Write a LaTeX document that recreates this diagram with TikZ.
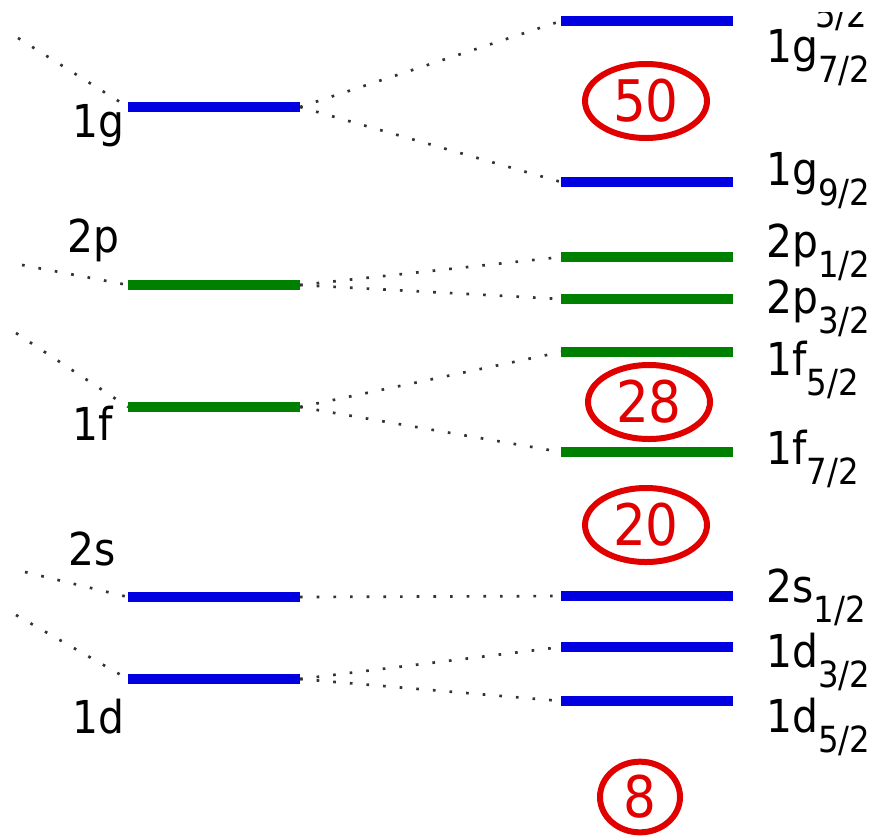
\documentclass[tikz,border=0pt]{standalone}
\usepackage{fontspec}
\setmainfont{DejaVu Sans}[FakeStretch=0.9]
\usetikzlibrary{shapes.geometric}
\definecolor{lvlblue}{RGB}{0,0,225}
\definecolor{lvlgreen}{RGB}{0,128,0}
\definecolor{magicred}{RGB}{225,0,0}
\newcommand{\lvl}[2]{\fontsize{34pt}{34pt}\selectfont #1\raisebox{-15pt}{\fontsize{27pt}{27pt}\selectfont #2}}
\newcommand{\sublbl}[1]{\fontsize{27pt}{27pt}\selectfont #1}
\tikzset{
  bluebar/.style={draw=lvlblue, line width=7.5pt},
  greenbar/.style={draw=lvlgreen, line width=7.5pt},
  dotline/.style={draw=black!80, line width=2pt, dash pattern=on 2pt off 10.5pt},
  lab/.style={anchor=base west, inner sep=0pt, text=black},
  magic/.style={ellipse, draw=magicred, line width=4.5pt, text=magicred, inner sep=0pt,
    font=\fontsize{43pt}{43pt}\selectfont}
}
\begin{document}
\begin{tikzpicture}[x=0.75pt,y=-0.75pt]
\useasboundingbox (0,0) rectangle (884,836);
% left bars
\coordinate (gL) at (128,107);  \coordinate (gR) at (300,107);
\coordinate (pL) at (128,285);  \coordinate (pR) at (300,285);
\coordinate (fL) at (128,407);  \coordinate (fR) at (300,407);
\coordinate (sL) at (128,597);  \coordinate (sR) at (300,597);
\coordinate (dL) at (128,679);  \coordinate (dR) at (300,679);
% left free ends
\coordinate (g0) at (18,38);
\coordinate (p0) at (22,265);
\coordinate (f0) at (16,333);
\coordinate (s0) at (25,572);
\coordinate (d0) at (16,615);
% right bars
\coordinate (g72L) at (561,21);  \coordinate (g72R) at (733,21);
\coordinate (g92L) at (561,182); \coordinate (g92R) at (733,182);
\coordinate (p12L) at (561,257); \coordinate (p12R) at (733,257);
\coordinate (p32L) at (561,299); \coordinate (p32R) at (733,299);
\coordinate (f52L) at (561,352); \coordinate (f52R) at (733,352);
\coordinate (f72L) at (561,452); \coordinate (f72R) at (733,452);
\coordinate (s12L) at (561,596); \coordinate (s12R) at (733,596);
\coordinate (d32L) at (561,647); \coordinate (d32R) at (733,647);
\coordinate (d52L) at (561,701); \coordinate (d52R) at (733,701);
% dotted connectors
\draw[dotline] (g0) -- (gL);
\draw[dotline] (p0) -- (pL);
\draw[dotline] (f0) -- (fL);
\draw[dotline] (s0) -- (sL);
\draw[dotline] (d0) -- (dL);
\draw[dotline] (gR) -- (g72L);
\draw[dotline] (gR) -- (g92L);
\draw[dotline] (pR) -- (p12L);
\draw[dotline] (pR) -- (p32L);
\draw[dotline] (fR) -- (f52L);
\draw[dotline] (fR) -- (f72L);
\draw[dotline] (sR) -- (s12L);
\draw[dotline] (dR) -- (d32L);
\draw[dotline] (dR) -- (d52L);
% bars
\draw[bluebar] (gL) -- (gR);
\draw[greenbar] (pL) -- (pR);
\draw[greenbar] (fL) -- (fR);
\draw[bluebar] (sL) -- (sR);
\draw[bluebar] (dL) -- (dR);
\draw[bluebar] (g72L) -- (g72R);
\draw[bluebar] (g92L) -- (g92R);
\draw[greenbar] (p12L) -- (p12R);
\draw[greenbar] (p32L) -- (p32R);
\draw[greenbar] (f52L) -- (f52R);
\draw[greenbar] (f72L) -- (f72R);
\draw[bluebar] (s12L) -- (s12R);
\draw[bluebar] (d32L) -- (d32R);
\draw[bluebar] (d52L) -- (d52R);
% left labels
\node[lab] (lg) at (72,137) {\lvl{1g}{}};
\node[lab] (lp) at (67,252) {\lvl{2p}{}};
\node[lab] (lf) at (72,440) {\lvl{1f}{}};
\node[lab] (ls) at (68,565) {\lvl{2s}{}};
\node[lab] (ld) at (72,733) {\lvl{1d}{}};
% right labels
\node[lab] (rg72) at (766,62)  {\lvl{1g}{7/2}};
\node[lab] (rg92) at (766,185) {\lvl{1g}{9/2}};
\node[lab] (rp12) at (766,257) {\lvl{2p}{1/2}};
\node[lab] (rp32) at (766,313) {\lvl{2p}{3/2}};
\node[lab] (rf52) at (766,375) {\lvl{1f}{5/2}};
\node[lab] (rf72) at (766,464) {\lvl{1f}{7/2}};
\node[lab] (rs12) at (766,602) {\lvl{2s}{1/2}};
\node[lab] (rd32) at (766,667) {\lvl{1d}{3/2}};
\node[lab] (rd52) at (766,732) {\lvl{1d}{5/2}};
% cut-off fragment at top
\begin{scope}
\clip (800,12) rectangle (884,40);
\node[lab] (frag) at (815,27) {\sublbl{5/2}};
\end{scope}
% magic numbers
\node[magic, minimum width=91.5pt, minimum height=55.5pt] (m50) at (646,101) {50};
\node[magic, minimum width=91.5pt, minimum height=55.5pt] (m28) at (649,402) {28};
\node[magic, minimum width=91.5pt, minimum height=55.5pt] (m20) at (646,525) {20};
\node[magic, minimum width=60pt, minimum height=53pt] (m8) at (640,797) {8};
\end{tikzpicture}
\end{document}
